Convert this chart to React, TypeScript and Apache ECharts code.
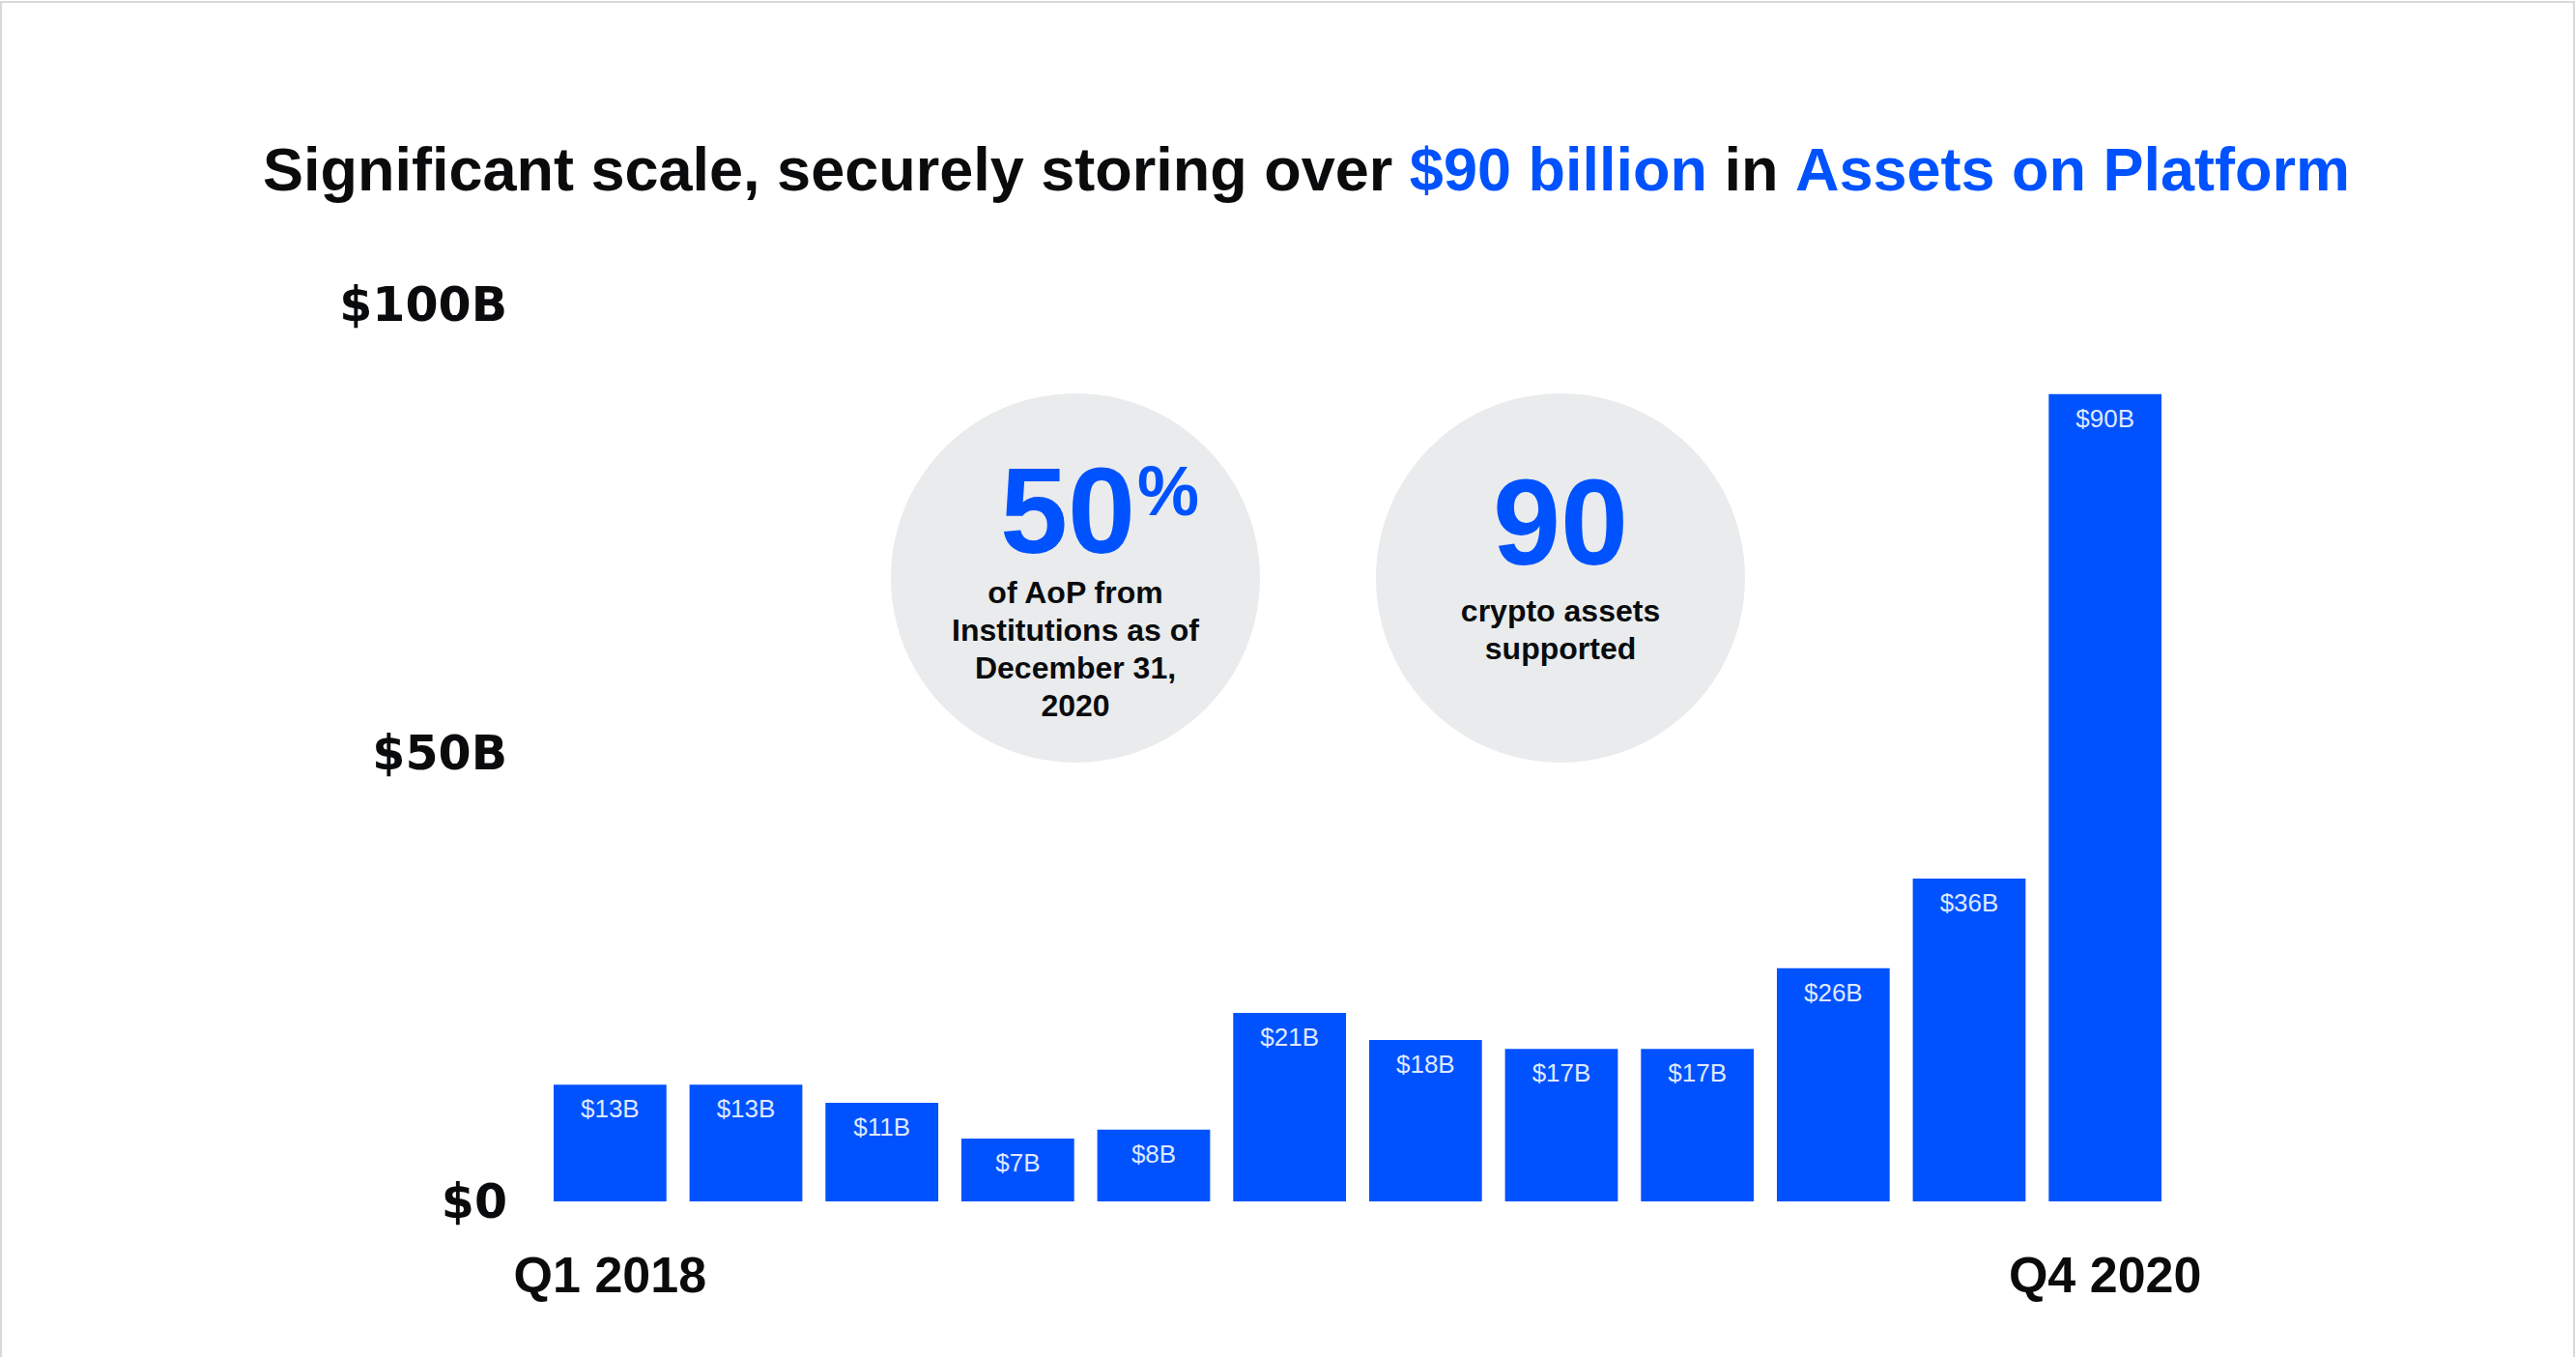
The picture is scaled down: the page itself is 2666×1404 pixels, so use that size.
import React, { useEffect, useRef } from "react";
import * as echarts from "echarts";

const quarters = [
  "Q1 2018", "Q2 2018", "Q3 2018", "Q4 2018",
  "Q1 2019", "Q2 2019", "Q3 2019", "Q4 2019",
  "Q1 2020", "Q2 2020", "Q3 2020", "Q4 2020",
];
const assetsOnPlatform = [13, 13, 11, 7, 8, 21, 18, 17, 17, 26, 36, 90];
const yTickValues = [0, 50, 100];
const titleParts = ["Significant scale, securely storing over ", "$90 billion", " in ", "Assets on Platform"];
const stat1Value = "50";
const stat1Unit = "%";
const stat1Caption = ["of AoP from", "Institutions as of", "December 31,", "2020"];
const stat2Value = "90";
const stat2Caption = ["crypto assets", "supported"];

const BLUE = "#0052ff";
const CIRCLE = "#e9ebec";
const FONT = "'Liberation Sans', Arial, sans-serif";

export default function App() {
  const ref = useRef<HTMLDivElement>(null);
  useEffect(() => {
    if (!ref.current) return;
    const chart = echarts.init(ref.current, undefined, { renderer: "svg" });
    const c1x = 1113, c2x = 1615, cy = 598, r = 191;
    chart.setOption({
      animation: false,
      backgroundColor: "#ffffff",
      grid: { left: 561, right: 417, top: 315, bottom: 161, containLabel: false },
      xAxis: {
        type: "category",
        data: quarters,
        axisLine: { show: false },
        axisTick: { show: false },
        axisLabel: {
          interval: (i: number) => i === 0 || i === quarters.length - 1,
          margin: 50,
          fontFamily: FONT,
          fontWeight: "bold",
          fontSize: 52,
          color: "#0a0b0d",
        },
      },
      yAxis: {
        type: "value",
        min: yTickValues[0],
        max: yTickValues[yTickValues.length - 1],
        interval: yTickValues[1] - yTickValues[0],
        splitLine: { show: false },
        axisLine: { show: false },
        axisTick: { show: false },
        axisLabel: {
          margin: 36,
          fontFamily: "'DejaVu Sans', sans-serif",
          fontWeight: "bold",
          fontSize: 49,
          color: "#0a0b0d",
          formatter: (v: number) => (v === 0 ? "$0" : `$${v}B`),
        },
      },
      series: [
        {
          type: "bar",
          data: assetsOnPlatform,
          barCategoryGap: "17%",
          itemStyle: { color: BLUE },
          label: {
            show: true,
            position: "insideTop",
            distance: 12,
            fontFamily: FONT,
            fontSize: 26,
            color: "#dfe8ff",
            formatter: (p: any) => `$${p.value}B`,
          },
        },
      ],
      graphic: [
        {
          type: "rect",
          silent: true,
          shape: { x: 1, y: 2, width: 2663, height: 1420 },
          style: { fill: "none", stroke: "#d9d9d9", lineWidth: 2 },
        },
        {
          type: "text",
          x: 1352,
          y: 175,
          style: {
            text: `{a|${titleParts[0]}}{b|${titleParts[1]}}{a|${titleParts[2]}}{b|${titleParts[3]}}`,
            align: "center",
            verticalAlign: "middle",
            rich: {
              a: { fontFamily: FONT, fontWeight: "bold", fontSize: 63, fill: "#0a0b0d" },
              b: { fontFamily: FONT, fontWeight: "bold", fontSize: 63, fill: BLUE },
            },
          },
        },
        { type: "circle", shape: { cx: c1x, cy, r }, style: { fill: CIRCLE } },
        { type: "circle", shape: { cx: c2x, cy, r }, style: { fill: CIRCLE } },
        {
          type: "text",
          x: c1x - 8,
          y: 528,
          style: {
            text: stat1Value,
            align: "center",
            verticalAlign: "middle",
            fontFamily: FONT,
            fontWeight: "bold",
            fontSize: 126,
            lineHeight: 100,
            fill: BLUE,
          },
        },
        {
          type: "text",
          x: c1x + 96,
          y: 508,
          style: {
            text: stat1Unit,
            align: "center",
            verticalAlign: "middle",
            fontFamily: FONT,
            fontWeight: "bold",
            fontSize: 72,
            lineHeight: 56,
            fill: BLUE,
          },
        },
        {
          type: "text",
          x: c1x,
          y: 671,
          style: {
            text: stat1Caption.join("\n"),
            align: "center",
            verticalAlign: "middle",
            fontFamily: FONT,
            fontWeight: "bold",
            fontSize: 32,
            lineHeight: 39,
            fill: "#0a0b0d",
          },
        },
        {
          type: "text",
          x: c2x,
          y: 540,
          style: {
            text: stat2Value,
            align: "center",
            verticalAlign: "middle",
            fontFamily: FONT,
            fontWeight: "bold",
            fontSize: 126,
            lineHeight: 100,
            fill: BLUE,
          },
        },
        {
          type: "text",
          x: c2x,
          y: 651,
          style: {
            text: stat2Caption.join("\n"),
            align: "center",
            verticalAlign: "middle",
            fontFamily: FONT,
            fontWeight: "bold",
            fontSize: 32,
            lineHeight: 39,
            fill: "#0a0b0d",
          },
        },
      ],
    });
    return () => chart.dispose();
  }, []);
  return (
    <div
      ref={ref}
      style={{ position: "fixed", left: 0, top: 0, width: 2666, height: 1404, background: "#fff" }}
    />
  );
}
